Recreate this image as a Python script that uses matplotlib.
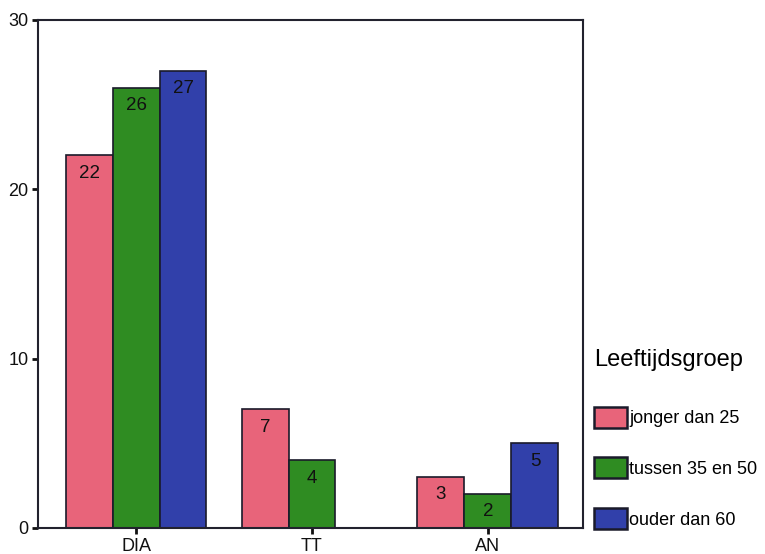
import numpy as np
import matplotlib
matplotlib.use("Agg")
import matplotlib.pyplot as plt
from matplotlib.patches import Patch

plt.rcParams['font.family'] = ['Liberation Sans', 'DejaVu Sans']

categories = ["DIA", "TT", "AN"]
groups = ["jonger dan 25", "tussen 35 en 50", "ouder dan 60"]
values = [
    [22, 7, 3],   # jonger dan 25
    [26, 4, 2],   # tussen 35 en 50
    [27, 0, 5],   # ouder dan 60
]
colors = ["#e8647a", "#2f8c22", "#3140aa"]
yticks = [0, 10, 20, 30]

fig = plt.figure(figsize=(7.65, 5.54), dpi=100)
ax = fig.add_axes([38 / 765, 1 - 528 / 554, 545 / 765, 508 / 554])

x = np.arange(len(categories))
w = 0.267
handles = []
for i, (g, vals) in enumerate(zip(groups, values)):
    pos = x + (i - 1) * w
    for p, v in zip(pos, vals):
        if v <= 0:
            continue
        ax.bar(p, v, width=w, color=colors[i], edgecolor="#1a1a2a", linewidth=1.2)
        ax.text(p, v - 1.05, str(v), ha="center", va="center", fontsize=13.5, color="#111111")
    handles.append(Patch(facecolor=colors[i], edgecolor="#1a1a2a", linewidth=1.8, label=g))

ax.set_xlim(-0.557, 2.54)
ax.set_ylim(0, 30)
ax.set_xticks(x)
ax.set_xticklabels(categories, fontsize=13)
ax.set_yticks(yticks)
ax.set_yticklabels([str(t) for t in yticks], fontsize=13)
ax.tick_params(axis="both", direction="out", length=4, width=2, colors="#111111", pad=3)
for s in ax.spines.values():
    s.set_linewidth(1.5)
    s.set_color("#22222e")

leg = ax.legend(handles=handles, loc="upper left", bbox_to_anchor=(0.99, 0.385), frameon=False,
                title="Leeftijdsgroep", title_fontsize=17, fontsize=13,
                handlelength=1.85, handleheight=1.4, handletextpad=0.1,
                labelspacing=1.65, borderaxespad=0.5, alignment="left")
leg._legend_box.sep = 26

fig.savefig("out.png", dpi=100)
